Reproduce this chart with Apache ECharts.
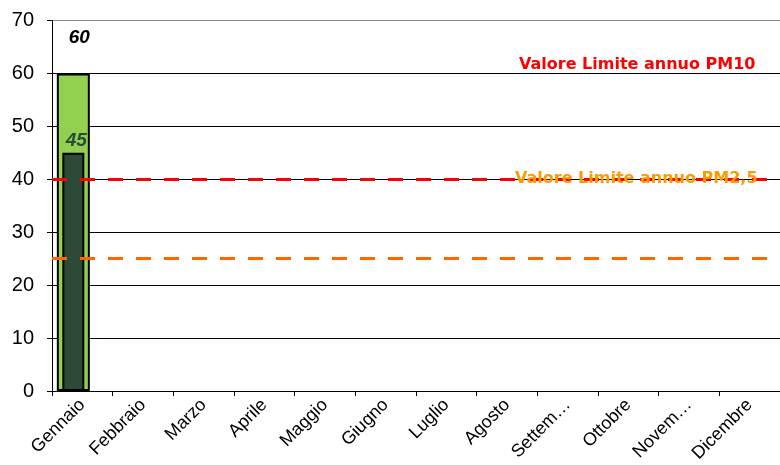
<!DOCTYPE html>
<html>
<head>
<meta charset="utf-8">
<script src="https://cdn.jsdelivr.net/npm/echarts@6/dist/echarts.min.js"></script>
<style>html,body{margin:0;padding:0;background:#fff}#c{width:780px;height:465px}</style>
</head>
<body>
<div id="c"></div>
<script>
var months = ['Gennaio','Febbraio','Marzo','Aprile','Maggio','Giugno','Luglio','Agosto','Settembre','Ottobre','Novembre','Dicembre'];
var tickLabels = ['Gennaio','Febbraio','Marzo','Aprile','Maggio','Giugno','Luglio','Agosto','Settem…','Ottobre','Novem…','Dicembre'];
var pm10 = [60,'-','-','-','-','-','-','-','-','-','-','-'];
var pm25 = [45,'-','-','-','-','-','-','-','-','-','-','-'];
var limitPM10 = 40;
var limitPM25 = 25;
var yTicks = [0,10,20,30,40,50,60,70];

var chart = echarts.init(document.getElementById('c'), null, {renderer:'canvas'});
var catAxis = {
  type:'category', data: months, boundaryGap:true,
  axisLine:{lineStyle:{color:'#000',width:1}},
  axisTick:{show:true, length:5, lineStyle:{color:'#000'}},
  axisLabel:{rotate:45, margin:11, fontSize:18, fontFamily:'Liberation Sans, Arial', color:'#000',
    interval:0, formatter:function(v,i){return tickLabels[i];}},
  splitLine:{show:false}
};
chart.setOption({
  backgroundColor:'#fff',
  animation:false,
  grid:{left:52, right:-4, top:20.5, bottom:72, containLabel:false},
  xAxis:[catAxis, {type:'category', data: months, show:false}],
  yAxis:{
    type:'value', min:yTicks[0], max:yTicks[yTicks.length-1], interval:10,
    axisLine:{show:true, lineStyle:{color:'#000',width:1}},
    axisTick:{show:true, length:5, lineStyle:{color:'#000'}},
    axisLabel:{fontSize:20, fontFamily:'Liberation Sans, Arial', color:'#000', margin:18},
    splitLine:{show:true, lineStyle:{color:['#000','#000','#000','#000','#000','#000','#000','#888'], width:1}}
  },
  series:[
    {type:'bar', name:'PM10', xAxisIndex:0, data:pm10, barWidth:33, barGap:'0%',
     itemStyle:{color:'#92D050', borderColor:'#000', borderWidth:2},
     label:{show:true, position:'top', distance:26, offset:[6,0], fontSize:19, fontWeight:'bold', fontStyle:'italic',
       fontFamily:'Liberation Sans, Arial', color:'#000'},
     z:2,
     markLine:{silent:true, symbol:'none', z:5,
       label:{show:false},
       data:[
         {yAxis:limitPM10, lineStyle:{color:'#FF0000', width:3, type:[15,13]}},
         {yAxis:limitPM25, lineStyle:{color:'#FF6600', width:3, type:[15,13]}}
       ]}
    },
    {type:'bar', name:'pad0', xAxisIndex:0, data:[], barWidth:18, barGap:'0%'},
    {type:'bar', name:'PM2,5', xAxisIndex:1, data:pm25, barWidth:22, barGap:'0%',
     itemStyle:{color:'#2D4A38', borderColor:'#000', borderWidth:2},
     label:{show:true, position:'top', distance:3, offset:[3,0], fontSize:19, fontWeight:'bold', fontStyle:'italic',
       fontFamily:'Liberation Sans, Arial', color:'#2D4A38'},
     z:3},
    {type:'bar', name:'pad1', xAxisIndex:1, data:[], barWidth:18, barGap:'0%'}
  ],
  graphic:[
    {type:'text', left:519, top:57, z:100, style:{text:'Valore Limite annuo PM10', fill:'#FF0000', font:'bold 16px "DejaVu Sans", Verdana'}},
    {type:'text', left:515, top:171, z:100, style:{text:'Valore Limite annuo PM2,5', fill:'#FF9900', font:'bold 16px "DejaVu Sans", Verdana'}}
  ]
});
</script>
</body>
</html>
